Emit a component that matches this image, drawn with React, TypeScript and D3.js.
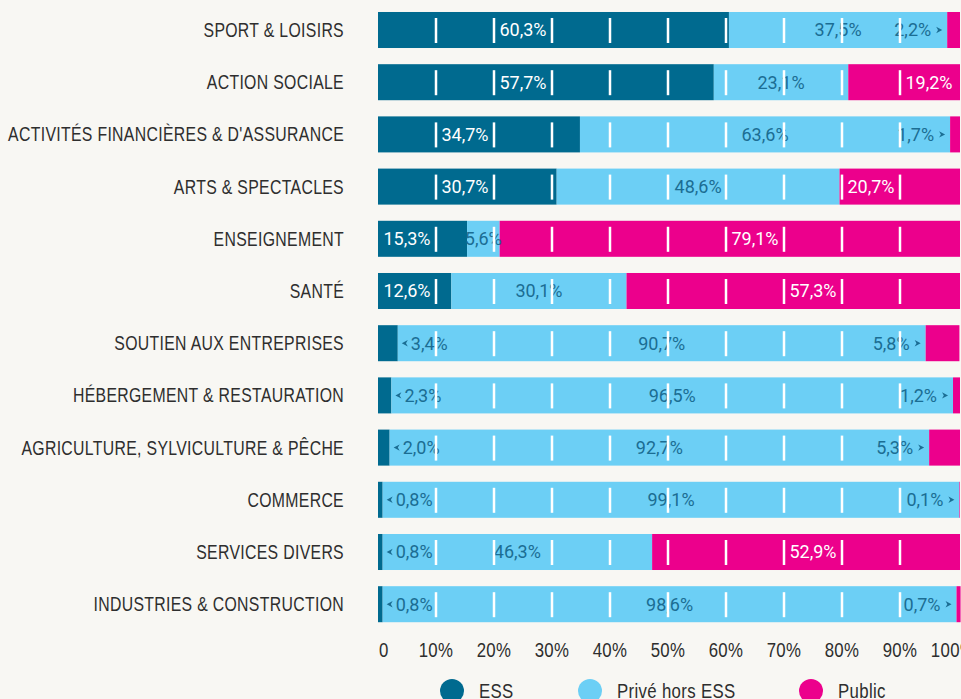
import React from 'react';
import * as d3 from 'd3';

const categories = [
  'SPORT & LOISIRS',
  'ACTION SOCIALE',
  "ACTIVITÉS FINANCIÈRES & D'ASSURANCE",
  'ARTS & SPECTACLES',
  'ENSEIGNEMENT',
  'SANTÉ',
  'SOUTIEN AUX ENTREPRISES',
  'HÉBERGEMENT & RESTAURATION',
  'AGRICULTURE, SYLVICULTURE & PÊCHE',
  'COMMERCE',
  'SERVICES DIVERS',
  'INDUSTRIES & CONSTRUCTION',
];
const essValues = [60.3, 57.7, 34.7, 30.7, 15.3, 12.6, 3.4, 2.3, 2.0, 0.8, 0.8, 0.8];
const priveValues = [37.5, 23.1, 63.6, 48.6, 5.6, 30.1, 90.7, 96.5, 92.7, 99.1, 46.3, 98.6];
const publicValues = [2.2, 19.2, 1.7, 20.7, 79.1, 57.3, 5.8, 1.2, 5.3, 0.1, 52.9, 0.7];
const seriesKeys = ['ess', 'prive', 'public'];
const seriesNames = ['ESS', 'Privé hors ESS', 'Public'];
const tickValues = [0, 10, 20, 30, 40, 50, 60, 70, 80, 90, 100];
const tickLabels = ['0', '10%', '20%', '30%', '40%', '50%', '60%', '70%', '80%', '90%', '100%'];

const W = 961;
const H = 699;
const BG = '#f8f7f3';
const COLORS = ['#006a8f', '#6ccff5', '#ec008c'];
const TEXT_ON = ['#ffffff', '#1b6d93', '#ffffff'];
const LABEL_FONT = "'Liberation Sans', Arial, sans-serif";
const VALUE_FONT = "Roboto, 'Liberation Sans', sans-serif";
const NARROW = 0.82;
const INK = '#2e2e2e';

const fmt = (v: number) => d3.format('.1f')(v).replace('.', ',') + '%';

function NarrowText(props: { x: number; y: number; anchor?: string; children: any; dy?: string; size?: number }) {
  return (
    <text
      transform={`translate(${props.x},${props.y}) scale(${NARROW},1)`}
      dy={props.dy}
      textAnchor={props.anchor || 'start'}
      fontFamily={LABEL_FONT}
      fontSize={props.size || 19.3}
      letterSpacing={0.4}
      fill={INK}
    >
      {props.children}
    </text>
  );
}

export default function App() {
  const rows = categories.map((c, i) => ({
    cat: c,
    ess: essValues[i],
    prive: priveValues[i],
    public: publicValues[i],
  }));
  const stacked = d3.stack<any>().keys(seriesKeys)(rows);

  const x = d3.scaleLinear().domain([0, 100]).range([378, 960]);
  const xGrid = d3.scaleLinear().domain([0, 100]).range([378, 958]);
  const y = d3
    .scaleBand<string>()
    .domain(categories)
    .range([3.9, 3.9 + 52.2 * 12])
    .paddingInner(0.31)
    .paddingOuter(0.155);
  const bw = y.bandwidth();

  const color = d3.scaleOrdinal<string, string>().domain(seriesKeys).range(COLORS);
  const textColor = d3.scaleOrdinal<string, string>().domain(seriesKeys).range(TEXT_ON);

  // centres of the grid cells (between the white marks)
  const cellCentres = d3.range(10).map((i) => (xGrid(i * 10) + xGrid(i * 10 + 10)) / 2);
  const cellBounds = d3.range(10).map((i) => [xGrid(i * 10), xGrid(i * 10 + 10)]);

  const arrowLeft = 'M3,-3.2 L-3,0 L3,3.2 L1.2,0 Z';
  const arrowRight = 'M-3,-3.2 L3,0 L-3,3.2 L-1.2,0 Z';
  const minInside = [30, 30, 40];

  const labels: any[] = [];
  stacked.forEach((s, si) => {
    s.forEach((d, ri) => {
      const x0 = x(d[0]);
      const x1 = x(d[1]);
      const w = x1 - x0;
      const v = (d.data as any)[s.key];
      const cy = (y(categories[ri]) as number) + bw / 2;
      const key = s.key;
      if (w >= minInside[si]) {
        let lx = (x0 + x1) / 2;
        if (si !== 1) {
          // white labels sit between two white marks
          const target = si === 0 ? lx - 10 : lx;
          let best = -1;
          let bestD = Infinity;
          cellCentres.forEach((c, ci) => {
            const [a, b] = cellBounds[ci];
            if (a >= x0 - 2 && b <= x1 + 2 && Math.abs(c - target) < bestD) {
              bestD = Math.abs(c - target);
              best = ci;
            }
          });
          if (best >= 0) lx = cellCentres[best];
        }
        labels.push({ key: `${key}-${ri}`, x: lx, y: cy, anchor: 'middle', text: fmt(v), fill: textColor(key) });
      } else if (si === 0) {
        labels.push({ key: `${key}-${ri}`, x: x1 + 13, y: cy, anchor: 'start', text: fmt(v), fill: TEXT_ON[1], arrow: { x: x1 + 7, d: arrowLeft } });
      } else {
        labels.push({ key: `${key}-${ri}`, x: x0 - 16, y: cy, anchor: 'end', text: fmt(v), fill: TEXT_ON[1], arrow: { x: x0 - 8, d: arrowRight } });
      }
    });
  });

  const gridTicks = tickValues.filter((t) => t > 0 && t < 100);
  const legendX = [452, 590, 811];

  return (
    <svg
      width={W}
      height={H}
      style={{ position: 'absolute', left: 0, top: 0, display: 'block' }}
    >
      <rect x={0} y={0} width={W} height={H} fill={BG} />
      {/* category labels */}
      {categories.map((c) => (
        <NarrowText key={c} x={344} y={(y(c) as number) + bw / 2} dy="0.36em" anchor="end">
          {c}
        </NarrowText>
      ))}
      {/* bars */}
      {stacked.map((s) => (
        <g key={s.key} fill={color(s.key)}>
          {s.map((d, i) => (
            <rect
              key={i}
              x={x(d[0])}
              y={y(categories[i])}
              width={Math.max(0, x(d[1]) - x(d[0]))}
              height={bw}
            />
          ))}
        </g>
      ))}
      {/* value labels */}
      {labels.map((l) => (
        <g key={l.key}>
          <text
            x={l.x}
            y={l.y}
            dy="0.36em"
            textAnchor={l.anchor}
            fontFamily={VALUE_FONT}
            fontSize={18}
            fill={l.fill}
          >
            {l.text}
          </text>
          {l.arrow && (
            <path d={l.arrow.d} transform={`translate(${l.arrow.x},${l.y})`} fill={TEXT_ON[1]} />
          )}
        </g>
      ))}
      {/* white grid marks on top */}
      {categories.map((c) => (
        <g key={`g-${c}`}>
          {gridTicks.map((t) => (
            <line
              key={t}
              x1={xGrid(t)}
              x2={xGrid(t)}
              y1={(y(c) as number) + 6}
              y2={(y(c) as number) + bw - 5}
              stroke="#ffffff"
              strokeWidth={2.5}
            />
          ))}
        </g>
      ))}
      {/* axis labels */}
      {tickValues.map((t, i) => (
        <NarrowText
          key={`t-${t}`}
          x={t === 0 ? xGrid(t) + 1 : t === 100 ? xGrid(t) - 5 : xGrid(t)}
          y={657}
          size={20.5}
          anchor={t === 0 ? 'start' : 'middle'}
        >
          {tickLabels[i]}
        </NarrowText>
      ))}
      {/* legend */}
      {seriesNames.map((n, i) => (
        <g key={n}>
          <circle cx={legendX[i]} cy={691} r={12} fill={COLORS[i]} />
          <NarrowText x={legendX[i] + 27} y={698} size={20.5}>
            {n}
          </NarrowText>
        </g>
      ))}
    </svg>
  );
}
